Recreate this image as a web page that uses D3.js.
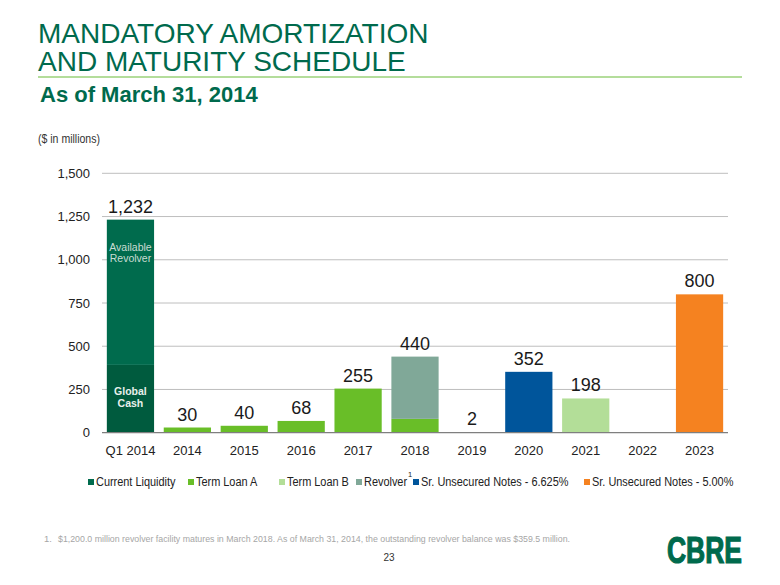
<!DOCTYPE html>
<html>
<head>
<meta charset="utf-8">
<script src="https://cdn.jsdelivr.net/npm/d3@7"></script>
<style>
  html, body { margin: 0; padding: 0; background: #ffffff; }
  svg { display: block; font-family: "Liberation Sans", Arial, Helvetica, sans-serif; }
</style>
</head>
<body>
<svg id="chart" width="780" height="585"></svg>
<script>
// ---------------- DATA ----------------
const categories = ["Q1 2014", "2014", "2015", "2016", "2017", "2018", "2019", "2020", "2021", "2022", "2023"];
const globalCash        = [392, 0, 0, 0, 0, 0, 0, 0, 0, 0, 0];
const availableRevolver = [840, 0, 0, 0, 0, 0, 0, 0, 0, 0, 0];
const termLoanA         = [0, 30, 40, 68, 255, 80, 0, 0, 0, 0, 0];
const termLoanB         = [0, 0, 0, 0, 0, 0, 2, 0, 198, 0, 0];
const revolver          = [0, 0, 0, 0, 0, 360, 0, 0, 0, 0, 0];
const notes6625         = [0, 0, 0, 0, 0, 0, 0, 352, 0, 0, 0];
const notes500          = [0, 0, 0, 0, 0, 0, 0, 0, 0, 0, 800];
const yTicks = [0, 250, 500, 750, 1000, 1250, 1500];
const legendLabels = ["Current Liquidity", "Term Loan A", "Term Loan B", "Revolver", "Sr. Unsecured Notes - 6.625%", "Sr. Unsecured Notes - 5.00%"];

// ---------------- STYLE / LAYOUT ----------------
const seriesKeys = ["globalCash", "availableRevolver", "termLoanA", "termLoanB", "revolver", "notes6625", "notes500"];
const seriesColor = {
  globalCash: "#005B3E",
  availableRevolver: "#006B4D",
  termLoanA: "#69BE28",
  termLoanB: "#B3DE98",
  revolver: "#80A898",
  notes6625: "#00559B",
  notes500: "#F58220"
};
const legendColors = ["#006B4D", "#69BE28", "#B3DE98", "#80A898", "#00559B", "#F58220"];
const legendMarkX = [88, 188, 279, 356, 413, 584];
const green = "#006A4D";

const rows = categories.map((c, i) => ({
  cat: c,
  globalCash: globalCash[i],
  availableRevolver: availableRevolver[i],
  termLoanA: termLoanA[i],
  termLoanB: termLoanB[i],
  revolver: revolver[i],
  notes6625: notes6625[i],
  notes500: notes500[i]
}));

const svg = d3.select("#chart");

// ---- Title ----
svg.append("text").attr("x", 38).attr("y", 43).attr("fill", green)
  .attr("font-size", 28).text("MANDATORY AMORTIZATION");
svg.append("text").attr("x", 38).attr("y", 71).attr("fill", green)
  .attr("font-size", 28).text("AND MATURITY SCHEDULE");
svg.append("line").attr("x1", 38).attr("x2", 742).attr("y1", 77).attr("y2", 77)
  .attr("stroke", "#9BD27A").attr("stroke-width", 1.5);
svg.append("text").attr("x", 40).attr("y", 102).attr("fill", green)
  .attr("font-size", 22).attr("font-weight", "bold").text("As of March 31, 2014");

svg.append("text").attr("x", 38).attr("y", 143).attr("font-size", 12.5).attr("fill", "#333")
  .attr("textLength", 62).attr("lengthAdjust", "spacingAndGlyphs").text("($ in millions)");

// ---- Scales ----
const x = d3.scaleBand().domain(categories).range([102, 728]).paddingInner(0.17).paddingOuter(0.085);
const y = d3.scaleLinear().domain([0, 1500]).range([432.7, 173.3]);

// gridlines
svg.append("g").selectAll("line").data(yTicks.filter(d => d > 0)).join("line")
  .attr("x1", 102).attr("x2", 728)
  .attr("y1", d => y(d)).attr("y2", d => y(d))
  .attr("stroke", "#BEBEBE").attr("stroke-width", 1);

// y axis
const yAxis = svg.append("g").attr("transform", "translate(102,0)")
  .call(d3.axisLeft(y).tickValues(yTicks).tickFormat(d3.format(",")).tickSize(0).tickPadding(12));
yAxis.select(".domain").remove();
yAxis.selectAll("text").attr("font-size", 13).attr("fill", "#222")
  .attr("font-family", "Liberation Sans, Arial, sans-serif");

// stacked bars
const stack = d3.stack().keys(seriesKeys);
const stacked = stack(rows);
const barG = svg.append("g");
stacked.forEach(layer => {
  barG.append("g").attr("fill", seriesColor[layer.key])
    .selectAll("rect").data(layer).join("rect")
    .attr("x", d => x(d.data.cat))
    .attr("width", x.bandwidth())
    .attr("y", d => y(d[1]))
    .attr("height", d => Math.max(0, y(d[0]) - y(d[1])));
});

// x axis
const xAxis = svg.append("g").attr("transform", `translate(0,${y(0)})`)
  .call(d3.axisBottom(x).tickSize(0).tickPadding(13));
xAxis.select(".domain").attr("stroke", "#7F7F7F").attr("stroke-width", 1.2)
  .attr("d", `M102,0H728`);
xAxis.selectAll("text").attr("font-size", 13).attr("fill", "#222")
  .attr("font-family", "Liberation Sans, Arial, sans-serif");

// totals
const totals = rows.map(r => seriesKeys.reduce((s, k) => s + r[k], 0));
svg.append("g").selectAll("text").data(rows.map((r, i) => ({ cat: r.cat, total: totals[i] })).filter(d => d.total > 0))
  .join("text")
  .attr("x", d => x(d.cat) + x.bandwidth() / 2)
  .attr("y", d => y(d.total) - 7)
  .attr("text-anchor", "middle")
  .attr("font-size", 18).attr("fill", "#1A1A1A")
  .text(d => d3.format(",")(d.total));

// inside labels for Q1 2014
const q1c = x(categories[0]) + x.bandwidth() / 2;
const inside = svg.append("g").attr("text-anchor", "middle");
inside.append("text").attr("x", q1c).attr("y", 250.5).attr("font-size", 10.5).attr("fill", "#C9DCD3").text("Available");
inside.append("text").attr("x", q1c).attr("y", 262).attr("font-size", 10.5).attr("fill", "#C9DCD3").text("Revolver");
inside.append("text").attr("x", q1c).attr("y", 395).attr("font-size", 10.5).attr("font-weight", "bold").attr("fill", "#E8F0EC").text("Global");
inside.append("text").attr("x", q1c).attr("y", 406.5).attr("font-size", 10.5).attr("font-weight", "bold").attr("fill", "#E8F0EC").text("Cash");

// legend
const legScale = 0.81;
const leg = svg.append("g");
legendLabels.forEach((lab, i) => {
  const mx = legendMarkX[i];
  leg.append("rect").attr("x", mx).attr("y", 479).attr("width", 6).attr("height", 6).attr("fill", legendColors[i]);
  const tx = mx + 8;
  const t = leg.append("text").attr("transform", `translate(${tx},486) scale(${legScale},1)`)
    .attr("font-size", 13.5).attr("fill", "#222").text(lab);
  if (lab === "Revolver") {
    const w = t.node().getComputedTextLength() * legScale;
    leg.append("text").attr("x", tx + w + 1).attr("y", 477)
      .attr("font-size", 7.5).attr("fill", "#222").text("1");
  }
});

// footnote
svg.append("text").attr("x", 44).attr("y", 542).attr("font-size", 9.5).attr("fill", "#A6A6A6").text("1.");
svg.append("text").attr("x", 58).attr("y", 542).attr("font-size", 9.5).attr("fill", "#A6A6A6")
  .attr("textLength", 512).attr("lengthAdjust", "spacingAndGlyphs")
  .text("$1,200.0 million revolver facility matures in March 2018.  As of March 31, 2014, the outstanding revolver balance was $359.5 million.");

// page number
svg.append("text").attr("x", 389).attr("y", 561).attr("text-anchor", "middle").attr("font-size", 10).attr("fill", "#333").text("23");

// logo
svg.append("text").attr("x", 667).attr("y", 563).attr("font-size", 36).attr("font-weight", "bold")
  .attr("fill", green).attr("stroke", green).attr("stroke-width", 1.2)
  .attr("textLength", 75).attr("lengthAdjust", "spacingAndGlyphs").text("CBRE");
</script>
</body>
</html>
